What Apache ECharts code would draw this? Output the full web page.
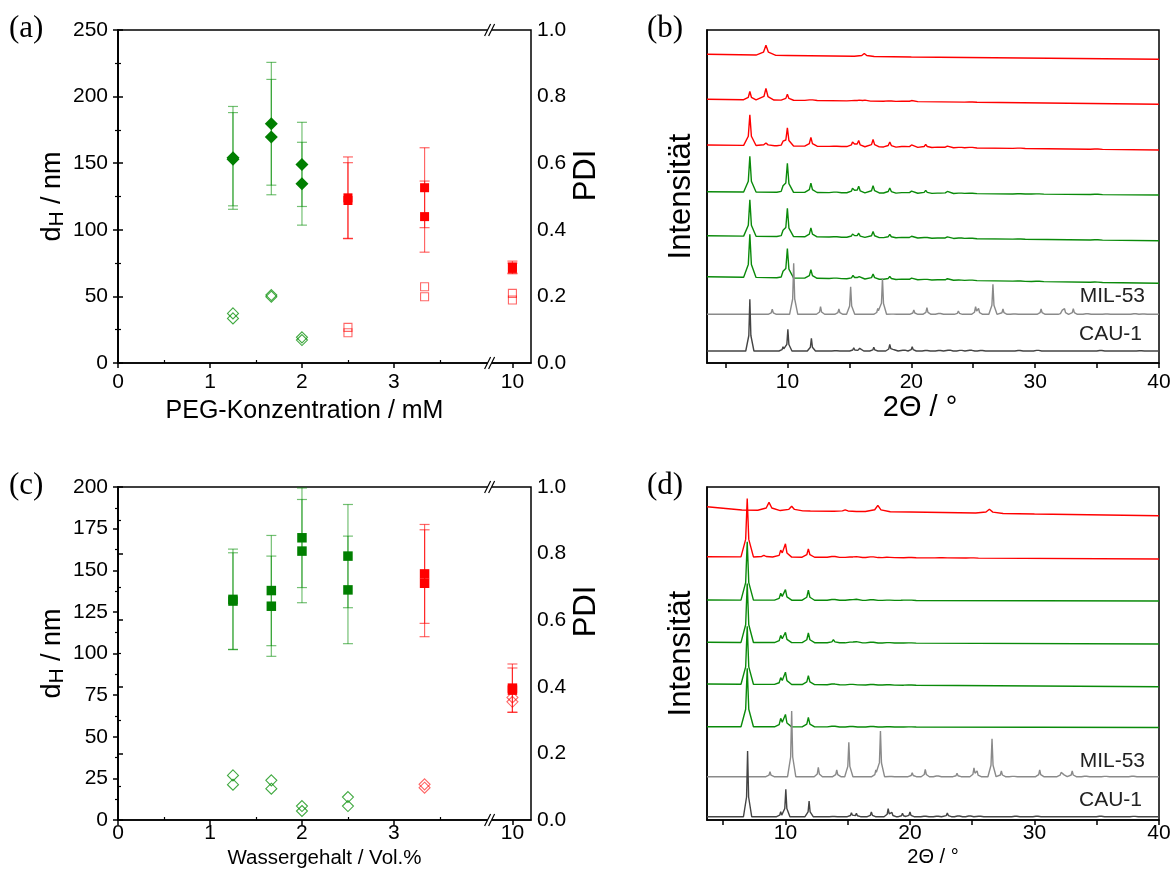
<!DOCTYPE html>
<html><head><meta charset="utf-8">
<script src="https://cdn.jsdelivr.net/npm/echarts@6/dist/echarts.min.js"></script>
<style>html,body{margin:0;padding:0;background:#fff}#c{width:1170px;height:876px}</style>
</head><body><div id="c"></div>
<script>
// ===================== DATA =====================
// (a) PEG concentration series
const pegX = [1.25, 1.667, 2, 2.5, 3.333, 10];
const pegGroup = ['g','g','g','r','r','r'];
const pegDh1 = [154, 179.6, 149.1, 124, 131.6, 72];
const pegErr1 = [38.6, 46.1, 31.6, 30.7, 30, 4.5];
const pegDh2 = [153, 169.6, 134.6, 122, 109.9, 71];
const pegErr2 = [35, 43.3, 31.1, 28.4, 26.7, 4];
const pegPdi1 = [0.149, 0.204, 0.077, 0.107, 0.229, 0.209];
const pegPdi2 = [0.134, 0.199, 0.069, 0.091, 0.199, 0.189];
// (c) water content series
const watX = [1.25, 1.667, 2, 2.5, 3.333, 10];
const watGroup = ['g','g','g','g','r','r'];
const watDh1 = [132.5, 137.8, 169.5, 158.5, 147.8, 79.2];
const watErr1 = [30.2, 33.1, 29.9, 31, 29.7, 14.5];
const watDh2 = [131.5, 128.4, 161.5, 138.2, 142.2, 78];
const watErr2 = [29, 30.1, 31, 32.3, 32.1, 13.3];
const watPdi1 = [0.134, 0.119, 0.042, 0.069, 0.107, 0.368];
const watPdi2 = [0.106, 0.094, 0.027, 0.042, 0.097, 0.355];
// concentration axis tick labels
const concTicks = [0, 1, 2, 3, 10];
const concMinor = [0.5, 1.5, 2.5, 3.5];
// XRD axis ticks
const xrdLabels = [10, 20, 30, 40];
const xrdTicks = [5, 10, 15, 20, 25, 30, 35, 40];

// XRD patterns: baseline anchors [2θ, level] and peaks [2θ, height, (width)]
// panel (b)
const bRed1Base = [[3.5,308.7],[10,307.5],[20,306],[40,303.7]];
const bRed1Peaks = [[8.26,10,0.8],[16.2,3,0.8]];
const bRed2Base = [[3.5,263.7],[40,258.7]];
const bRed2Peaks = [[6.96,8.3],[8.26,11.5,0.65],[9.99,6],[11.9,2],[15.29,1],[15.75,1],[16.2,1.3],[18.26,1.3],[19.35,0.8],[20.02,1],[24.8,1]];
const bRed3Base = [[3.5,218],[40,213]];
const bRed3Peaks = [[6.96,30.7],[8.26,2.7,0.7],[9.64,2.5],[9.99,17.7],[11.89,8.7],[13.86,0.8],[15.29,6],[15.75,6],[16.91,7.3],[18.26,5],[19.35,2.3],[20.02,2.3],[21.16,3],[22.24,1.3],[22.91,1.5],[23.94,1.5],[24.8,1.8],[28.7,1],[34.94,1]];
const bGr1Base = [[3.5,171.3],[40,168]];
const bGr1Peaks = [[6.96,35.7],[9.64,3],[9.99,28.7],[11.89,9.3],[13.86,1.7],[15.29,5.7],[15.75,6.3],[16.91,7.3],[18.26,5],[19.35,1.7],[20.02,2],[21.16,3],[22.24,1],[22.91,2],[23.94,1.5],[24.8,1.5],[28.7,0.8],[30.2,0.8],[34.94,1]];
const bGr2Base = [[3.5,127.3],[40,122.3]];
const bGr2Peaks = [[6.96,36.4],[9.64,3],[9.99,28],[11.89,9],[13.86,1.2],[15.29,4.3],[15.75,4],[16.91,6],[18.26,3.3],[19.35,1.5],[20.02,1.7],[21.16,2],[22.24,1],[22.91,1.5],[23.94,1.5],[24.8,1.5],[28.7,0.8],[34.94,1]];
const bGr3Base = [[3.5,86.3],[40,79.7]];
const bGr3Peaks = [[6.96,43],[9.64,3],[9.99,29],[11.89,8.5],[13.86,1.5],[15.29,3.3],[15.75,3],[16.91,5],[18.26,3],[19.35,1.3],[20.02,1.5],[21.16,1.7],[22.24,1],[22.91,1.5],[23.94,1],[24.8,1.5],[28.7,1],[30.2,1],[34.94,1]];
const bMilBase = [[3.5,48.7],[40,48.7]];
const bMilPeaks = [[8.77,5],[10.5,51],[12.67,7.6],[14.15,5.3],[15.1,27.6],[17.29,6],[17.67,36],[18.48,0.7],[20.2,4.3],[21.26,6.6],[22.27,2.6],[23.8,3.3],[25.19,7],[25.43,5],[26.59,30],[27.4,5.3],[28.32,1],[30.48,5.3],[32.19,3.3],[32.37,5],[33.08,5.6],[34.19,1.7],[35.76,1],[38.05,2],[38.73,1]];
const bCauBase = [[3.5,12],[40,12]];
const bCauPeaks = [[6.96,51.7],[9.64,4.3],[10.03,21.7],[11.93,12.7],[13.9,1],[15.35,3.3],[15.83,2.7],[16.97,3.7],[18.26,6.7],[18.6,3.3],[19.4,2.7],[20.07,4.3],[21.2,1.7],[22.27,1.7],[23.05,2.7],[24.0,2],[24.8,2.3],[25.66,1.7],[28.7,1.7],[30.2,2],[35.3,1.7],[38.5,1]];
// panel (d)
const dRed1Base = [[3.7,313.3],[6.5,310],[12,309],[20,308],[30,306],[40,304.3]];
const dRed1Peaks = [[8.68,8,0.9],[10.5,4.5,0.9],[14.8,1.5,0.9],[17.42,6.3,1.0],[26.38,4,1.1]];
const dRed2Base = [[3.7,263.3],[40,261]];
const dRed2Peaks = [[6.93,58.4],[8.27,1.7,0.7],[9.62,5.7],[10.0,12.7],[11.84,8.3],[13.85,2.7],[15.3,1.3],[15.7,0.7],[16.94,2.3],[18.27,1],[20.0,0.7],[22.5,0.5],[25,0.5]];
const dGr1Base = [[3.7,220],[40,219]];
const dGr1Peaks = [[6.93,58.3],[9.62,6],[10.0,10],[11.84,10],[13.85,2.7],[15.3,1.7],[15.7,1],[16.94,2],[18.27,1],[19.4,0.7],[20.0,1]];
const dGr2Base = [[3.7,177.7],[40,176]];
const dGr2Peaks = [[6.93,59],[9.62,6.3],[10.0,9.7],[11.84,9.7],[13.85,3],[15.3,2.3],[15.7,1],[16.94,2.3],[18.27,1.3],[20.0,0.7]];
const dGr3Base = [[3.7,136],[40,133.3]];
const dGr3Peaks = [[6.93,58],[9.62,5.7],[10.0,11.7],[11.84,9],[13.85,2.3],[15.3,1.7],[16.94,1.7],[18.27,1],[20.0,0.7]];
const dGr4Base = [[3.7,93.3],[40,92.5]];
const dGr4Peaks = [[6.93,58.4],[9.62,7.4],[10.0,11.7],[11.84,9.4],[13.85,2.3],[15.3,1.3],[16.94,1.7],[18.27,1],[20.0,0.7]];
const dMilBase = [[3.7,43.3],[40,43.3]];
const dMilPeaks = [[8.76,5],[10.5,65.7],[12.64,9.3],[14.12,6.7],[15.09,34.3],[17.26,6.7],[17.63,45.7],[18.45,0.7],[20.18,4],[21.23,7.3],[22.2,2.3],[23.78,3.3],[25.14,8.3],[25.39,5],[26.59,38],[27.34,5.7],[28.3,1],[30.42,6.7],[32.14,3.3],[32.3,5],[33.03,5.7],[34.1,1.3],[35.7,1],[37.9,1.5]];
const dCauBase = [[3.7,3.3],[40,3.3]];
const dCauPeaks = [[6.96,65.7],[9.62,5],[10.03,27.3],[11.9,15.7],[13.85,0.7],[15.3,4],[15.7,3.3],[16.9,4.7],[18.25,8],[18.55,4],[19.4,3.3],[20.0,4.7],[21.2,1.7],[22.2,1.7],[23.0,3.7],[23.9,2.3],[24.8,2.3],[25.6,1.7],[28.5,1.3],[30.2,1.3],[35.3,1.7],[38,1]];

// ===================== HELPERS =====================
const FONT = "'Liberation Sans', Arial, sans-serif";
const GREEN = '#007f00', RED = '#ff0000';
const GREEN_ERR = 'rgba(0,140,0,0.55)', RED_ERR = 'rgba(255,0,0,0.6)';
const GREEN_OPEN = 'rgba(0,140,0,0.75)', RED_OPEN = 'rgba(255,0,0,0.6)';
const X_MAX = 4.49, TEN_POS = 4.288, BREAK_POS = 4.04;
const TICK_FS = 21;
function xPos(v) { return v > 5 ? TEN_POS : v; }
function baseAt(base, x) {
  for (let i = 0; i < base.length - 1; i++) {
    if (x >= base[i][0] && x <= base[i+1][0]) {
      const t = (x - base[i][0]) / (base[i+1][0] - base[i][0]);
      return base[i][1] + t * (base[i+1][1] - base[i][1]);
    }
  }
  return x < base[0][0] ? base[0][1] : base[base.length-1][1];
}
function buildPattern(base, peaks, xmin, xmax, w0) {
  const xs = new Set([xmin, xmax]);
  base.forEach(b => xs.add(b[0]));
  peaks.forEach(p => { const w = p[2] || w0; [-1, -0.25, 0, 0.25, 1].forEach(t => xs.add(+(p[0] + t * w).toFixed(4))); });
  const arr = [...xs].filter(x => x >= xmin && x <= xmax).sort((a, b) => a - b);
  return arr.map(x => [x, baseAt(base, x) + peaks.reduce((s, p) => {
    const w = p[2] || w0; const t = Math.abs(x - p[0]) / w;
    if (t >= 1) return s;
    return s + (t <= 0.25 ? p[1] * (1 - 2.8 * t) : p[1] * 0.3 * (1 - t) / 0.75);
  }, 0)]);
}
function renderErr(params, api) {
  const x = api.value(0), y = api.value(1), e = api.value(2);
  const top = api.coord([x, y + e]), bot = api.coord([x, y - e]);
  const c = 5, st = { stroke: api.visual('color'), lineWidth: 1.2 };
  return { type: 'group', children: [
    { type: 'line', shape: { x1: top[0], y1: top[1], x2: bot[0], y2: bot[1] }, style: st },
    { type: 'line', shape: { x1: top[0]-c, y1: top[1], x2: top[0]+c, y2: top[1] }, style: st },
    { type: 'line', shape: { x1: bot[0]-c, y1: bot[1], x2: bot[0]+c, y2: bot[1] }, style: st }
  ]};
}
function renderBreak(params, api) {
  const p = api.coord([api.value(0), api.value(1)]);
  const x = p[0], y = p[1];
  return { type: 'group', children: [
    { type: 'polygon', shape: { points: [[x-5,y+6],[x+1,y-6],[x+5,y-6],[x-1,y+6]] }, style: { fill: '#fff' } },
    { type: 'line', shape: { x1: x-5, y1: y+6, x2: x+1, y2: y-6 }, style: { stroke: '#000', lineWidth: 1.2 } },
    { type: 'line', shape: { x1: x-1, y1: y+6, x2: x+5, y2: y-6 }, style: { stroke: '#000', lineWidth: 1.2 } }
  ]};
}
function pick(xs, vals, grp, g, errs) {
  const out = [];
  xs.forEach((x, i) => { if (grp[i] === g) out.push(errs ? [xPos(x), vals[i], errs[i]] : [xPos(x), vals[i]]); });
  return out;
}
const axLine = { show: true, lineStyle: { color: '#000', width: 1.5 } };
const lbl = (extra) => Object.assign({ color: '#000', fontSize: TICK_FS, fontFamily: FONT }, extra);
const nameStyle = (fs, pad) => ({ color: '#000', fontSize: fs, fontFamily: FONT, padding: pad || 0 });

function concAxes(gi, name, labelMargin, nameGap, nameFs, namePad) {
  return [
    { gridIndex: gi, type: 'value', min: 0, max: X_MAX, position: 'bottom',
      axisLine: axLine, splitLine: { show: false },
      axisTick: { show: true, customValues: concTicks.map(xPos), length: 5, lineStyle: { color: '#000', width: 1.5 } },
      axisLabel: lbl({ customValues: concTicks.map(xPos), margin: labelMargin, formatter: v => (v > 4 ? '10' : String(Math.round(v))) }),
      name: name, nameLocation: 'middle', nameGap: nameGap, nameTextStyle: nameStyle(nameFs, namePad) },
    { gridIndex: gi, type: 'value', min: 0, max: X_MAX, position: 'bottom',
      axisLine: { show: false }, splitLine: { show: false }, axisLabel: { show: false },
      axisTick: { show: true, inside: true, customValues: concMinor, length: 3, lineStyle: { color: '#000', width: 1.2 } } }
  ];
}
function leftY(gi, max, interval) {
  return { gridIndex: gi, type: 'value', min: 0, max: max, interval: interval, position: 'left',
    axisLine: axLine, splitLine: { show: false },
    axisTick: { show: true, length: 5, lineStyle: { color: '#000', width: 1.5 } },
    minorTick: { show: true, splitNumber: 2, length: 3, lineStyle: { color: '#000', width: 1.2 } },
    minorSplitLine: { show: false },
    axisLabel: lbl({ margin: 10 }),
    name: '{a|d}{b|H}{a| / nm}', nameLocation: 'middle', nameRotate: 90, nameGap: 50,
    nameTextStyle: { color: '#000', fontFamily: FONT, rich: { a: { fontSize: 27, fontFamily: FONT, color: '#000' }, b: { fontSize: 21, fontFamily: FONT, color: '#000', padding: [9, 0, 0, 0] } } } };
}
function rightY(gi, pad) {
  return { gridIndex: gi, type: 'value', min: 0, max: 1, interval: 0.2, position: 'right',
    axisLine: axLine, splitLine: { show: false },
    axisTick: { show: true, length: 5, lineStyle: { color: '#000', width: 1.5 } },
    minorTick: { show: true, splitNumber: 2, length: 3, lineStyle: { color: '#000', width: 1.2 } },
    minorSplitLine: { show: false },
    axisLabel: lbl({ margin: 6, formatter: v => v.toFixed(1) }),
    name: 'PDI', nameLocation: 'middle', nameRotate: 90, nameGap: 40,
    nameTextStyle: nameStyle(31, pad) };
}
function xrdX(gi, min, labelMargin, nameGap, nameFs, namePad) {
  return { gridIndex: gi, type: 'value', min: min, max: 40, position: 'bottom',
    axisLine: axLine, splitLine: { show: false },
    axisTick: { show: true, customValues: xrdTicks, length: 5, lineStyle: { color: '#000', width: 1.5 } },
    axisLabel: lbl({ customValues: xrdLabels, margin: labelMargin }),
    name: '2Θ / °', nameLocation: 'middle', nameGap: nameGap, nameTextStyle: nameStyle(nameFs, namePad) };
}
function xrdY(gi) {
  return { gridIndex: gi, type: 'value', min: 0, max: 333, position: 'left',
    axisLine: axLine, splitLine: { show: false }, axisTick: { show: false }, axisLabel: { show: false },
    name: 'Intensität', nameLocation: 'middle', nameRotate: 90, nameGap: 10,
    nameTextStyle: nameStyle(31) };
}

function dlsSeries(xi, yi, yi2, xs, grp, dh1, e1, dh2, e2, p1, p2, dhGreenSym, dhGreenSize, redSize, pdiRedSym, pdiRedSize, yMax) {
  const s = [];
  [['g', GREEN_ERR], ['r', RED_ERR]].forEach(([g, col]) => {
    [[dh1, e1], [dh2, e2]].forEach(([d, e]) => {
      s.push({ type: 'custom', xAxisIndex: xi, yAxisIndex: yi, renderItem: renderErr, itemStyle: { color: col },
        data: pick(xs, d, grp, g, e), z: 3, silent: true, clip: false });
    });
  });
  [dh1, dh2].forEach(d => {
    s.push({ type: 'scatter', xAxisIndex: xi, yAxisIndex: yi, symbol: dhGreenSym, symbolSize: dhGreenSize,
      itemStyle: { color: GREEN, opacity: 1 }, data: pick(xs, d, grp, 'g'), z: 5, silent: true });
    s.push({ type: 'scatter', xAxisIndex: xi, yAxisIndex: yi, symbol: 'rect', symbolSize: redSize,
      itemStyle: { color: RED, opacity: 1 }, data: pick(xs, d, grp, 'r'), z: 5, silent: true });
  });
  [p1, p2].forEach(p => {
    s.push({ type: 'scatter', xAxisIndex: xi, yAxisIndex: yi2, symbol: 'diamond', symbolSize: 11,
      itemStyle: { color: 'rgba(255,255,255,0)', borderColor: GREEN_OPEN, borderWidth: 1.1, opacity: 1 }, data: pick(xs, p, grp, 'g'), z: 4, silent: true });
    s.push({ type: 'scatter', xAxisIndex: xi, yAxisIndex: yi2, symbol: pdiRedSym, symbolSize: pdiRedSize,
      itemStyle: { color: 'rgba(255,255,255,0)', borderColor: RED_OPEN, borderWidth: 1.1, opacity: 1 }, data: pick(xs, p, grp, 'r'), z: 4, silent: true });
  });
  s.push({ type: 'custom', xAxisIndex: xi, yAxisIndex: yi, renderItem: renderBreak, clip: false, silent: true, z: 20,
    data: [[BREAK_POS, 0], [BREAK_POS, yMax]] });
  return s;
}
function xrdLine(xi, yi, base, peaks, xmin, w, color) {
  return { type: 'line', xAxisIndex: xi, yAxisIndex: yi, showSymbol: false, symbol: 'none', silent: true,
    lineStyle: { color: color, width: 1.4 }, data: buildPattern(base, peaks, xmin, 40, w), z: 2 };
}

// ===================== CHART =====================
const chart = echarts.init(document.getElementById('c'), null, { renderer: 'canvas' });
const gridCommon = { show: true, borderColor: '#000', borderWidth: 1.5, backgroundColor: 'rgba(0,0,0,0)', containLabel: false, outerBoundsMode: 'none' };
const EXP_W = 0.5, SIM_W = 0.33, GRN = '#0a8a0a', MIL_C = '#8a8a8a', CAU_C = '#444';
const series = [].concat(
  dlsSeries(0, 0, 1, pegX, pegGroup, pegDh1, pegErr1, pegDh2, pegErr2, pegPdi1, pegPdi2, 'diamond', 13, 9, 'rect', 8, 250),
  dlsSeries(3, 3, 4, watX, watGroup, watDh1, watErr1, watDh2, watErr2, watPdi1, watPdi2, 'rect', 9.5, 9.5, 'diamond', 11, 200),
  [
    xrdLine(2, 2, bRed1Base, bRed1Peaks, 3.5, EXP_W, RED),
    xrdLine(2, 2, bRed2Base, bRed2Peaks, 3.5, EXP_W, RED),
    xrdLine(2, 2, bRed3Base, bRed3Peaks, 3.5, EXP_W, RED),
    xrdLine(2, 2, bGr1Base, bGr1Peaks, 3.5, EXP_W, GRN),
    xrdLine(2, 2, bGr2Base, bGr2Peaks, 3.5, EXP_W, GRN),
    xrdLine(2, 2, bGr3Base, bGr3Peaks, 3.5, EXP_W, GRN),
    xrdLine(2, 2, bMilBase, bMilPeaks, 3.5, SIM_W, MIL_C),
    xrdLine(2, 2, bCauBase, bCauPeaks, 3.5, SIM_W, CAU_C),
    xrdLine(5, 5, dRed1Base, dRed1Peaks, 3.7, EXP_W, RED),
    xrdLine(5, 5, dRed2Base, dRed2Peaks, 3.7, EXP_W, RED),
    xrdLine(5, 5, dGr1Base, dGr1Peaks, 3.7, EXP_W, GRN),
    xrdLine(5, 5, dGr2Base, dGr2Peaks, 3.7, EXP_W, GRN),
    xrdLine(5, 5, dGr3Base, dGr3Peaks, 3.7, EXP_W, GRN),
    xrdLine(5, 5, dGr4Base, dGr4Peaks, 3.7, EXP_W, GRN),
    xrdLine(5, 5, dMilBase, dMilPeaks, 3.7, SIM_W, MIL_C),
    xrdLine(5, 5, dCauBase, dCauPeaks, 3.7, SIM_W, CAU_C)
  ]
);
const panelText = (t, x, y) => ({ type: 'text', left: x, top: y, style: { text: t, font: "31px 'Liberation Serif', 'Times New Roman', serif", fill: '#000' } });
const sideText = (t, x, yc) => ({ type: 'text', right: 1170 - x, top: yc - 12, style: { text: t, font: "21px 'Liberation Sans', Arial, sans-serif", fill: '#222' } });

chart.setOption({
  animation: false,
  backgroundColor: '#fff',
  textStyle: { fontFamily: FONT, color: '#000' },
  grid: [
    Object.assign({ left: 118, top: 30, width: 413, height: 333 }, gridCommon),
    Object.assign({ left: 707, top: 30, width: 452, height: 333 }, gridCommon),
    Object.assign({ left: 707, top: 487, width: 452, height: 333 }, gridCommon),
    Object.assign({ left: 118, top: 487, width: 413, height: 333 }, gridCommon)
  ],
  xAxis: [].concat(
    concAxes(0, 'PEG-Konzentration / mM', 9, 36, 25, [0, 40, 0, 0]),
    [xrdX(1, 3.5, 9, 30, 29, [0, 26, 0, 0])],
    concAxes(3, 'Wassergehalt / Vol.%', 3, 28, 20.5),
    [xrdX(2, 3.7, 3, 27, 20)]
  ),
  yAxis: [
    leftY(0, 250, 50), rightY(0, [0, 0, 0, 42]), xrdY(1),
    leftY(3, 200, 25), rightY(3, [0, 0, 0, 84]), xrdY(2)
  ],
  series: series,
  graphic: [
    panelText('(a)', 9, 13), panelText('(b)', 647, 13), panelText('(c)', 9, 470), panelText('(d)', 647, 470),
    sideText('MIL-53', 1145, 298), sideText('CAU-1', 1142, 336),
    sideText('MIL-53', 1145, 763), sideText('CAU-1', 1142, 802)
  ]
});
</script>
</body></html>
